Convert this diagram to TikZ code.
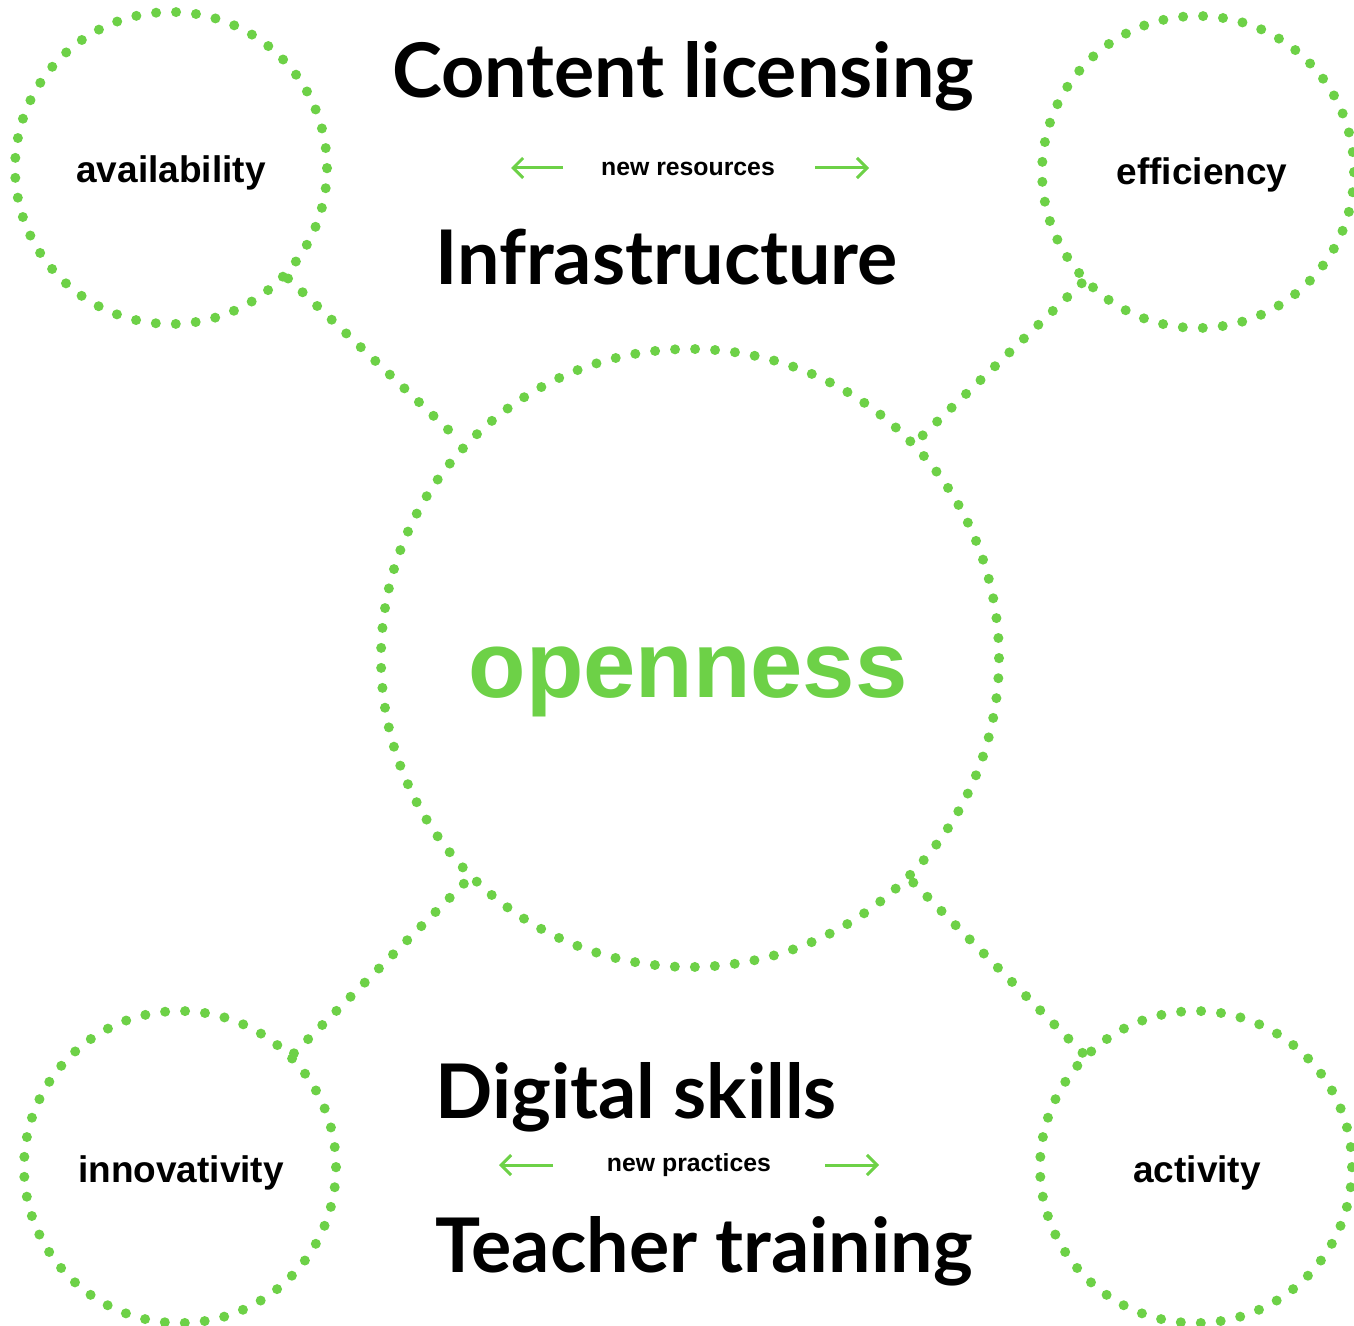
\documentclass[tikz,border=0pt]{standalone}
\usepackage{fontspec}
\usetikzlibrary{arrows.meta}
\newfontfamily\latofont{Lato}
\newfontfamily\lblfont{Liberation Sans}
\definecolor{ogreen}{HTML}{6DD147}
\tikzset{
  dotline/.style={draw=ogreen, line width=5pt, line cap=round, dash pattern=on 0pt off 10pt},
  smallc/.style={circle, dotline, minimum size=156pt, inner sep=0pt},
  bigc/.style={circle, draw=ogreen, line width=5pt, line cap=round, dash pattern=on 0pt off 10.008pt, minimum size=309pt, inner sep=0pt},
  lbl/.style={font=\lblfont\bfseries\fontsize{18.5pt}{20pt}\selectfont, anchor=base, inner sep=0pt},
  big/.style={font=\latofont\bfseries\fontsize{37.7pt}{40pt}\selectfont, anchor=base west, inner sep=0pt},
  sub/.style={font=\lblfont\bfseries\fontsize{12.4pt}{14pt}\selectfont, anchor=base, inner sep=0pt},
  garrow/.style={draw=ogreen, line width=1.5pt, -{Straight Barb[length=5pt,width=10pt]}},
}
\begin{document}
\begin{tikzpicture}[x=0.5pt,y=-0.5pt]
\useasboundingbox (0,0) rectangle (1354,1326);
% circles
\node[smallc] (tl) at (171,168) {};
\node[smallc] (tr) at (1198,172) {};
\node[smallc] (bl) at (180,1167) {};
\node[smallc] (br) at (1196,1167) {};
\node[bigc] (c) at (690,658) {};
% connectors
\draw[dotline] (tl) -- (c);
\draw[dotline] (tr) -- (c);
\draw[dotline] (bl) -- (c);
\draw[dotline] (br) -- (c);
% labels
\node[lbl] (la) at (171,183) {availability};
\node[lbl] (le) at (1202,185) {efficiency};
\node[lbl] (li) at (181,1182) {innovativity};
\node[lbl] (lc) at (1197,1182) {activity};
\node[font=\lblfont\bfseries\fontsize{47pt}{50pt}\selectfont, text=ogreen, anchor=base, inner sep=0pt] (open) at (688,697) {openness};
% headings
\node[big] (t1) at (392,98) {Content licensing};
\node[big] (t2) at (435,285) {Infrastructure};
\node[big] (t3) at (435,1118) {Digital skills};
\node[big] (t4) at (435,1272) {Teacher training};
% sub labels with arrows
\node[sub] (nr) at (688,176) {new resources};
\coordinate (nrL1) at (563,168); \coordinate (nrL2) at (511,168);
\coordinate (nrR1) at (815,168); \coordinate (nrR2) at (869,168);
\draw[garrow] (nrL1) -- (nrL2);
\draw[garrow] (nrR1) -- (nrR2);
\node[sub] (np) at (689,1171) {new practices};
\coordinate (npL1) at (553,1165); \coordinate (npL2) at (499,1165);
\coordinate (npR1) at (825,1165); \coordinate (npR2) at (879,1165);
\draw[garrow] (npL1) -- (npL2);
\draw[garrow] (npR1) -- (npR2);
\end{tikzpicture}
\end{document}
